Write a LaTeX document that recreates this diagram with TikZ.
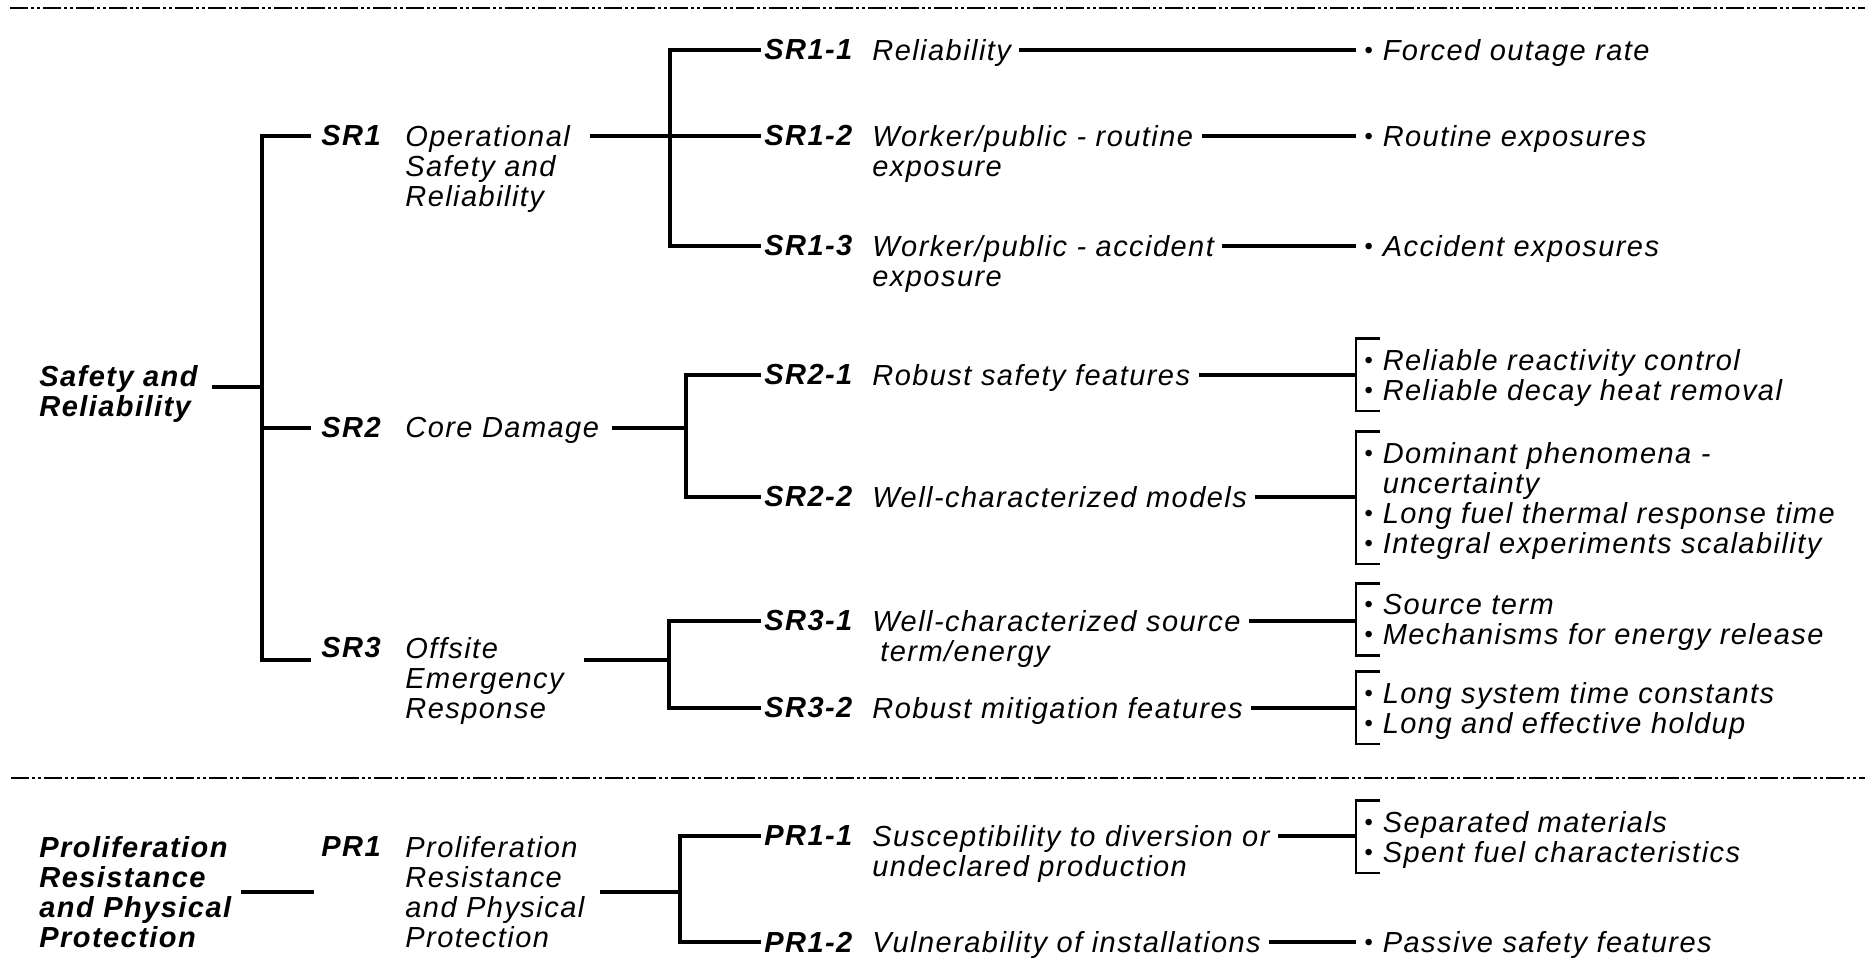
\documentclass[tikz,border=0pt]{standalone}
\usepackage{fontspec}
\setmainfont{Liberation Sans}[LetterSpace=5]
\usetikzlibrary{calc}
\newcommand{\dgfont}{\fontsize{14.5}{15}\selectfont}
\newcommand{\itm}{\raisebox{0.8pt}{\fontsize{12}{12}\selectfont\textbullet}\hspace{5pt}}

\begin{document}
\begin{tikzpicture}[x=0.5pt, y=-0.5pt,
  link/.style={line width=1.7pt},
  lead/.style={link, shorten <=4pt},
  brk/.style={line width=1.3pt},
  sepline/.style={line width=1.4pt, dash pattern=on 9pt off 1.5pt on 1.5pt off 1.5pt on 1.5pt off 1.5pt},
  code/.style={font=\dgfont\bfseries\itshape, inner sep=0pt, anchor=west},
  desc/.style={font=\dgfont\itshape, align=left, inner sep=0pt, anchor=north west},
  head/.style={desc, font=\dgfont\bfseries\itshape},
  items/.style={desc, inner xsep=4pt, inner ysep=2.3pt}
]
\useasboundingbox (0,0) rectangle (1865,980);

% separators
\draw[sepline] (10,8) -- (1865,8);
\draw[sepline] (11,778) -- (1865,778);

% top level
\node[head] (safety) at (39,365) {Safety and\\Reliability};
\node[head] (prolif) at (39,836) {Proliferation\\Resistance\\and Physical\\Protection};

% level 1
\node[code] (sr1) at (321,136) {SR1};
\node[desc] (sr1-d) at (405,125) {Operational\\Safety and\\Reliability};
\node[code] (sr2) at (321,428) {SR2};
\node[desc] (sr2-d) at (405,417) {Core Damage};
\node[code] (sr3) at (321,648) {SR3};
\node[desc] (sr3-d) at (405,637) {Offsite\\Emergency\\Response};
\node[code] (pr1) at (321,847) {PR1};
\node[desc] (pr1-d) at (405,836) {Proliferation\\Resistance\\and Physical\\Protection};

% level 2
\node[code] (sr11) at (764,50) {SR1-1};
\node[desc] (sr11-d) at (872,39) {Reliability};
\node[code] (sr12) at (764,136) {SR1-2};
\node[desc] (sr12-d) at (872,125) {Worker/public - routine\\exposure};
\node[code] (sr13) at (764,246) {SR1-3};
\node[desc] (sr13-d) at (872,235) {Worker/public - accident\\exposure};
\node[code] (sr21) at (764,375) {SR2-1};
\node[desc] (sr21-d) at (872,364) {Robust safety features};
\node[code] (sr22) at (764,497) {SR2-2};
\node[desc] (sr22-d) at (872,486) {Well-characterized models};
\node[code] (sr31) at (764,621) {SR3-1};
\node[desc] (sr31-d) at (872,610) {Well-characterized source\\\hspace*{4pt}term/energy};
\node[code] (sr32) at (764,708) {SR3-2};
\node[desc] (sr32-d) at (872,697) {Robust mitigation features};
\node[code] (pr11) at (764,836) {PR1-1};
\node[desc] (pr11-d) at (872,825) {Susceptibility to diversion or\\undeclared production};
\node[code] (pr12) at (764,942) {PR1-2};
\node[desc] (pr12-d) at (872,931) {Vulnerability of installations};

% criteria
\node[items] (sr11-i) at (1356,34) {\itm Forced outage rate};
\node[items] (sr12-i) at (1356,120) {\itm Routine exposures};
\node[items] (sr13-i) at (1356,230) {\itm Accident exposures};
\node[items] (sr21-i) at (1356,344) {\itm Reliable reactivity control\\\itm Reliable decay heat removal};
\node[items] (sr22-i) at (1356,437) {\itm Dominant phenomena -\\\hphantom{\itm}uncertainty\\\itm Long fuel thermal response time\\\itm Integral experiments scalability};
\node[items] (sr31-i) at (1356,589) {\itm Source term\\\itm Mechanisms for energy release};
\node[items] (sr32-i) at (1356,677) {\itm Long system time constants\\\itm Long and effective holdup};
\node[items] (pr11-i) at (1356,806) {\itm Separated materials\\\itm Spent fuel characteristics};
\node[items] (pr12-i) at (1356,926) {\itm Passive safety features};

% junctions
\coordinate (trunk) at (262,387);
\coordinate (sr3row) at (262,660);
\coordinate (pr0) at (314,892);
\coordinate (j1) at (670,136);
\coordinate (j2) at (686,428);
\coordinate (j3) at (669,660);
\coordinate (j4) at (680,892);

% tree
\draw[link, shorten <=7pt] (safety.east |- trunk) -- (trunk);
\draw[link, shorten <=5pt, shorten >=5pt] (sr1.west) -| (sr3row) -- (sr3row -| sr3.west);
\draw[link, shorten >=5pt] (trunk |- sr2) -- (sr2.west);
\draw[link, shorten <=4.5pt] (prolif.east |- pr0) -- (pr0);

\draw[link, shorten <=10pt] (sr1-d.east |- sr1) -- (j1);
\draw[link, shorten <=6.5pt] (sr2-d.east |- sr2) -- (j2);
\draw[link, shorten <=10pt] (sr3-d.east |- j3) -- (j3);
\draw[link, shorten <=7.5pt] (pr1-d.east |- j4) -- (j4);

\draw[link, shorten <=1.5pt, shorten >=1.5pt] (sr11.west) -| (j1 |- sr13) -- (sr13.west);
\draw[link, shorten >=1.5pt] (j1) -- (sr12.west);
\draw[link, shorten <=1.5pt, shorten >=1.5pt] (sr21.west) -| (j2 |- sr22) -- (sr22.west);
\draw[link, shorten <=1.5pt, shorten >=1.5pt] (sr31.west) -| (j3 |- sr32) -- (sr32.west);
\draw[link, shorten <=1.5pt, shorten >=1.5pt] (pr11.west) -| (j4 |- pr12) -- (pr12.west);

\foreach \n in {sr11,sr12,sr13,sr21,sr22,sr31,sr32,pr11,pr12}
  \draw[lead] (\n-d.east |- \n) -- (\n-i.west |- \n);

\foreach \n in {sr21,sr22,sr31,sr32,pr11}
  \draw[brk] ([xshift=12pt,yshift=2.7pt]\n-i.north west) -- ([yshift=2.7pt]\n-i.north west)
    -- (\n-i.south west) -- ([xshift=12pt]\n-i.south west);
\end{tikzpicture}
\end{document}
